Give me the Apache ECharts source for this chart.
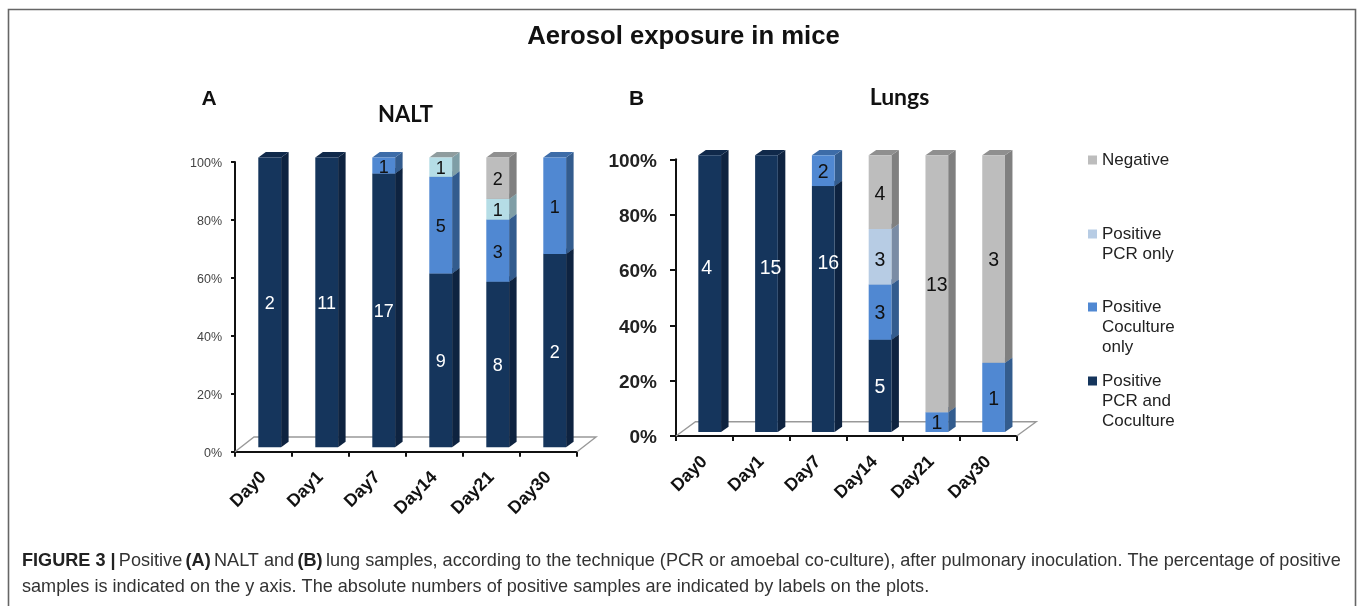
<!DOCTYPE html>
<html>
<head>
<meta charset="utf-8">
<style>html,body{margin:0;padding:0;background:#fff}#c{width:1358px;height:606px}</style>
<script src="https://cdn.jsdelivr.net/npm/echarts@6/dist/echarts.min.js"></script>
</head>
<body>
<div id="c"></div>
<script>
const days = ['Day0','Day1','Day7','Day14','Day21','Day30'];
const seriesNames = ['Positive PCR and Coculture','Positive Coculture only','Positive PCR only','Negative'];
const naltBoth      = [2, 11, 17, 9, 8, 2];
const naltCoculture = [0, 0, 1, 5, 3, 1];
const naltPcr       = [0, 0, 0, 1, 1, 0];
const naltNegative  = [0, 0, 0, 0, 2, 0];
const lungBoth      = [4, 15, 16, 5, 0, 0];
const lungCoculture = [0, 0, 2, 3, 1, 1];
const lungPcr       = [0, 0, 0, 3, 0, 0];
const lungNegative  = [0, 0, 0, 4, 13, 3];
const percentTicks = [0, 20, 40, 60, 80, 100];

const paletteBoth      = {front:'#15355c', side:'#0e2340', top:'#10294a', text:'#fff'};
const paletteCoculture = {front:'#5088d2', side:'#335c8e', top:'#3d6ca8', text:'#111'};
const paletteNaltPcr   = {front:'#b5dde6', side:'#7f9ea6', top:'#8f9c9e', text:'#111'};
const paletteLungPcr   = {front:'#b7cce4', side:'#7a8ca5', top:'#8f9aa8', text:'#111'};
const paletteNegative  = {front:'#bdbdbd', side:'#808080', top:'#8f8f8f', text:'#111'};

const legendLines = {
  'Negative':['Negative'],
  'Positive PCR only':['Positive','PCR only'],
  'Positive Coculture only':['Positive','Coculture','only'],
  'Positive PCR and Coculture':['Positive','PCR and','Coculture']
};

function stackSeries(gridIndex, columns, palettes, geo) {
  const totals = days.map((_, i) => columns.reduce((s, c) => s + c[i], 0));
  const bases = days.map(() => 0);
  return columns.map((col, k) => {
    const data = col.map((v, i) => {
      const from = bases[i] / totals[i] * 100;
      bases[i] += v;
      return [i, from, bases[i] / totals[i] * 100, v];
    });
    const pal = palettes[k];
    return {
      type: 'custom',
      name: seriesNames[k],
      xAxisIndex: gridIndex, yAxisIndex: gridIndex,
      coordinateSystem: 'cartesian2d',
      itemStyle: {color: pal.front},
      encode: {x: 0, y: [1, 2]},
      z: 5,
      data: data,
      renderItem(params, api) {
        const n = api.value(3);
        if (!n) return null;
        const a = api.coord([api.value(0), api.value(1)]);
        const b = api.coord([api.value(0), api.value(2)]);
        const band = api.size([1, 0])[0];
        const w = band * geo.barShare;
        const x0 = a[0] + geo.dx - w / 2, x1 = x0 + w;
        const y0 = a[1] + geo.dy, y1 = b[1] + geo.dy;
        const d = geo.depth, h = geo.rise;
        const poly = (pts, fill) => ({type:'polygon', shape:{points:pts}, style:{fill:fill}});
        const key = params.dataIndex + '_' + k;
        const nudge = geo.labelNudge[key] || [0, 0];
        return {type:'group', children:[
          poly([[x1,y0],[x1+d,y0-h],[x1+d,y1-h],[x1,y1]], pal.side),
          poly([[x0,y1],[x1,y1],[x1+d,y1-h],[x0+d,y1-h]], pal.top),
          poly([[x0,y0],[x1,y0],[x1,y1],[x0,y1]], pal.front),
          {type:'text', z2:5, style:{
            text:String(n), x:(x0+x1)/2 + nudge[0],
            y:(y0+y1)/2 + geo.labelDrop + nudge[1],
            fill:pal.text, font:geo.labelFont, align:'center', verticalAlign:'middle'}}
        ]};
      }
    };
  });
}

function floorSeries(gridIndex, geo) {
  return {
    type:'custom', xAxisIndex:gridIndex, yAxisIndex:gridIndex, silent:true, z:1,
    data:[[0,0]], encode:{x:0,y:1},
    renderItem(params, api) {
      const band = api.size([1,0])[0];
      const o = api.coord([0,0]);
      const xl = o[0]-band/2, xr = xl+band*days.length, y = o[1];
      return {type:'polyline', shape:{points:[[xl,y],[xl+geo.floorX,y-geo.floorY],[xr+geo.floorX,y-geo.floorY],[xr,y]]},
        style:{fill:null, stroke:'#999', lineWidth:1.4}};
    }
  };
}

const geoA = {barShare:0.40, dx:6.2, dy:-4.5, depth:7.5, rise:5.5, floorX:19, floorY:14.7,
  labelFont:'18px "Liberation Sans"', labelDrop:2, labelNudge:{}};
const geoB = {barShare:0.40, dx:5.3, dy:-4, depth:7.5, rise:5.3, floorX:19.5, floorY:14.3,
  labelFont:'19.5px "Liberation Sans"', labelDrop:2,
  labelNudge:{'0_0':[-3,-27], '1_0':[4,-27], '2_0':[5,-47], '3_2':[0,2]}};

function xAxis(gridIndex, size) {
  return {type:'category', gridIndex, data:days, boundaryGap:true,
    axisLine:{lineStyle:{color:'#111', width:2}},
    axisTick:{show:true, alignWithLabel:false, length:5, lineStyle:{color:'#111', width:2}},
    axisLabel:{rotate:45, interval:0, margin:23, color:'#111', fontWeight:'bold', fontSize:size, fontFamily:'"Liberation Sans"'}};
}
function yAxis(gridIndex, size, weight, color, margin, tick) {
  return {type:'value', gridIndex, min:0, max:100, interval:20,
    axisLine:{show:true, lineStyle:{color:'#111', width:2}},
    axisTick:{show:true, length:tick, lineStyle:{color:'#111', width:2}},
    splitLine:{show:false},
    axisLabel:{formatter:v=>'{p|'+percentTicks[v/20]+'%}', margin,
      rich:{p:{color, fontSize:size, fontWeight:weight, fontFamily:'"Liberation Sans"', padding:[4,0,0,0]}}}};
}
function legendAt(name, color, center) {
  const lines = legendLines[name];
  const n = lines.length;
  return {
    data:[{name, icon:'rect', itemStyle:{color}}],
    left:1088, top:center-(2*n-1)*10, padding:0, orient:'vertical', selectedMode:false,
    itemWidth:9, itemHeight:9,
    formatter:()=>' \n'.repeat(n-1)+lines.join('\n'),
    textStyle:{fontSize:17, lineHeight:20, color:'#222', fontFamily:'"Liberation Sans"'}
  };
}
const titleFont = (size, family) => ({fontSize:size, fontWeight:'bold', color:'#111', fontFamily:family});

const chart = echarts.init(document.getElementById('c'), null, {renderer:'canvas'});
chart.setOption({
  animation:false,
  backgroundColor:'#fff',
  title:[
    {text:'Aerosol exposure in mice', left:683.5, top:24, padding:0, textAlign:'center', textStyle:titleFont(25.7,'"Liberation Sans"')},
    {text:'A', left:209, top:89, padding:0, textAlign:'center', textStyle:titleFont(21,'"Liberation Sans"')},
    {text:'NALT', left:405.5, top:104, padding:0, textAlign:'center', textStyle:titleFont(22,'Lato')},
    {text:'B', left:636.5, top:89, padding:0, textAlign:'center', textStyle:titleFont(21,'"Liberation Sans"')},
    {text:'Lungs', left:899.5, top:86.5, padding:0, textAlign:'center', textStyle:titleFont(23,'Lato')}
  ],
  grid:[
    {left:235, top:162, width:342, height:289.7},
    {left:676, top:159.3, width:340.7, height:276.7}
  ],
  xAxis:[xAxis(0,17.7), xAxis(1,17.7)],
  yAxis:[yAxis(0,12.5,'normal','#444',13,4), yAxis(1,19,'bold','#222',19,6)],
  legend:[
    legendAt('Negative', paletteNegative.front, 160),
    legendAt('Positive PCR only', paletteLungPcr.front, 234),
    legendAt('Positive Coculture only', paletteCoculture.front, 307),
    legendAt('Positive PCR and Coculture', paletteBoth.front, 381)
  ],
  series:[
    floorSeries(0, geoA),
    floorSeries(1, geoB),
    ...stackSeries(0,[naltBoth,naltCoculture,naltPcr,naltNegative],[paletteBoth,paletteCoculture,paletteNaltPcr,paletteNegative],geoA),
    ...stackSeries(1,[lungBoth,lungCoculture,lungPcr,lungNegative],[paletteBoth,paletteCoculture,paletteLungPcr,paletteNegative],geoB)
  ],
  graphic:[
    {type:'rect', z:-1, silent:true, shape:{x:8.5,y:9.5,width:1347,height:620}, style:{fill:null, stroke:'#666', lineWidth:1.6}},
    {type:'text', left:22, top:552, style:{rich:{b:{font:'bold 18.1px "Liberation Sans"', fill:'#222'}, n:{font:'18.1px "Liberation Sans"', fill:'#333'}},
      text:'{b|FIGURE 3 |} {n|Positive} {b|(A)} {n|NALT and} {b|(B)} {n|lung samples, according to the technique (PCR or amoebal co-culture), after pulmonary inoculation. The percentage of positive}', fill:'#333'}},
    {type:'text', left:22, top:578, style:{text:'samples is indicated on the y axis. The absolute numbers of positive samples are indicated by labels on the plots.', font:'18.1px "Liberation Sans"', fill:'#333'}}
  ]
});
</script>
</body>
</html>
